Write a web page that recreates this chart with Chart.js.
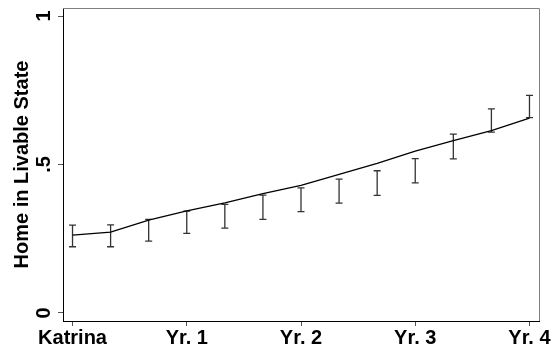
<!DOCTYPE html>
<html>
<head>
<meta charset="utf-8">
<script src="https://cdn.jsdelivr.net/npm/chart.js@4/dist/chart.umd.min.js"></script>
<style>
  html, body { margin: 0; padding: 0; background: #fff; }
  #wrap { width: 556px; height: 354px; }
</style>
</head>
<body>
<div id="wrap"><canvas id="livable" width="556" height="354"></canvas></div>
<script>
// survey waves, one every four months after the storm
const waves = [0, 1, 2, 3, 4, 5, 6, 7, 8, 9, 10, 11, 12];
const trend = [0.262, 0.272, 0.313, 0.344, 0.371, 0.402, 0.430, 0.467, 0.504, 0.545, 0.580, 0.614, 0.656];
const ciLow = [0.223, 0.223, 0.242, 0.268, 0.286, 0.315, 0.341, 0.370, 0.396, 0.438, 0.519, 0.609, 0.658];
const ciHigh = [0.296, 0.297, 0.315, 0.343, 0.366, 0.397, 0.421, 0.451, 0.479, 0.520, 0.602, 0.687, 0.733];
const yearTicks = [0, 3, 6, 9, 12];
const yearLabels = ["Katrina", "Yr. 1", "Yr. 2", "Yr. 3", "Yr. 4"];
const shareTicks = [0, 0.5, 1];
const shareLabels = ["0", ".5", "1"];

const FONT = "'Liberation Sans', Arial, sans-serif";

// plot region outline, whiskers and the rotated y tick labels
const extras = {
  id: "extras",
  beforeDatasetsDraw(chart) {
    const { ctx, chartArea: a, scales } = chart;
    ctx.save();
    ctx.strokeStyle = "#808080";
    ctx.lineWidth = 1;
    ctx.beginPath();
    ctx.moveTo(a.left, a.top + 0.5);
    ctx.lineTo(a.right + 0.5, a.top + 0.5);
    ctx.lineTo(a.right + 0.5, a.bottom);
    ctx.stroke();

    ctx.strokeStyle = "#333";
    ctx.lineWidth = 1.3;
    waves.forEach((w, i) => {
      const x = scales.x.getPixelForValue(w);
      const lo = scales.y.getPixelForValue(ciLow[i]);
      const hi = scales.y.getPixelForValue(ciHigh[i]);
      ctx.beginPath();
      ctx.moveTo(x, lo); ctx.lineTo(x, hi);
      ctx.moveTo(x - 3.5, lo); ctx.lineTo(x + 3.5, lo);
      ctx.moveTo(x - 3.5, hi); ctx.lineTo(x + 3.5, hi);
      ctx.stroke();
    });
    ctx.restore();
  },
  afterDraw(chart) {
    const { ctx, scales } = chart;
    ctx.save();
    ctx.fillStyle = "#000";
    ctx.font = "bold 20px " + FONT;
    ctx.textAlign = "center";
    ctx.textBaseline = "alphabetic";
    shareTicks.forEach((v, i) => {
      const y = scales.y.getPixelForValue(v);
      ctx.save();
      ctx.translate(50, y);
      ctx.rotate(-Math.PI / 2);
      ctx.fillText(shareLabels[i], 0, 0);
      ctx.restore();
    });
    ctx.restore();
  }
};

new Chart(document.getElementById("livable"), {
  type: "line",
  data: {
    datasets: [{
      data: waves.map((w, i) => ({ x: w, y: trend[i] })),
      borderColor: "#000",
      borderWidth: 1.3,
      pointRadius: 0,
      tension: 0,
      fill: false
    }]
  },
  options: {
    responsive: false,
    animation: false,
    devicePixelRatio: 1,
    layout: { padding: { top: 8, right: 17, left: 0, bottom: 0 } },
    plugins: { legend: { display: false }, tooltip: { enabled: false } },
    scales: {
      x: {
        type: "linear",
        min: -0.25,
        max: 12.25,
        afterBuildTicks: s => { s.ticks = yearTicks.map(v => ({ value: v })); },
        afterFit: s => { s.height = 33; },
        border: { color: "#000", width: 1 },
        grid: { drawOnChartArea: false, tickLength: 5, tickColor: "#555" },
        ticks: {
          color: "#000",
          padding: 0,
          maxRotation: 0,
          autoSkip: false,
          font: { family: FONT, size: 20, weight: "bold" },
          callback: v => yearLabels[yearTicks.indexOf(v)]
        }
      },
      y: {
        type: "linear",
        min: -0.027,
        max: 1.027,
        afterBuildTicks: s => { s.ticks = shareTicks.map(v => ({ value: v })); },
        afterFit: s => { s.width = 63; },
        border: { color: "#000", width: 1 },
        grid: { drawOnChartArea: false, tickLength: 5, tickColor: "#555" },
        ticks: { display: false },
        title: {
          display: true,
          text: "Home in Livable State",
          color: "#000",
          padding: { top: 10, bottom: 0 },
          font: { family: FONT, size: 20, weight: "bold" }
        }
      }
    }
  },
  plugins: [extras]
});
</script>
</body>
</html>
